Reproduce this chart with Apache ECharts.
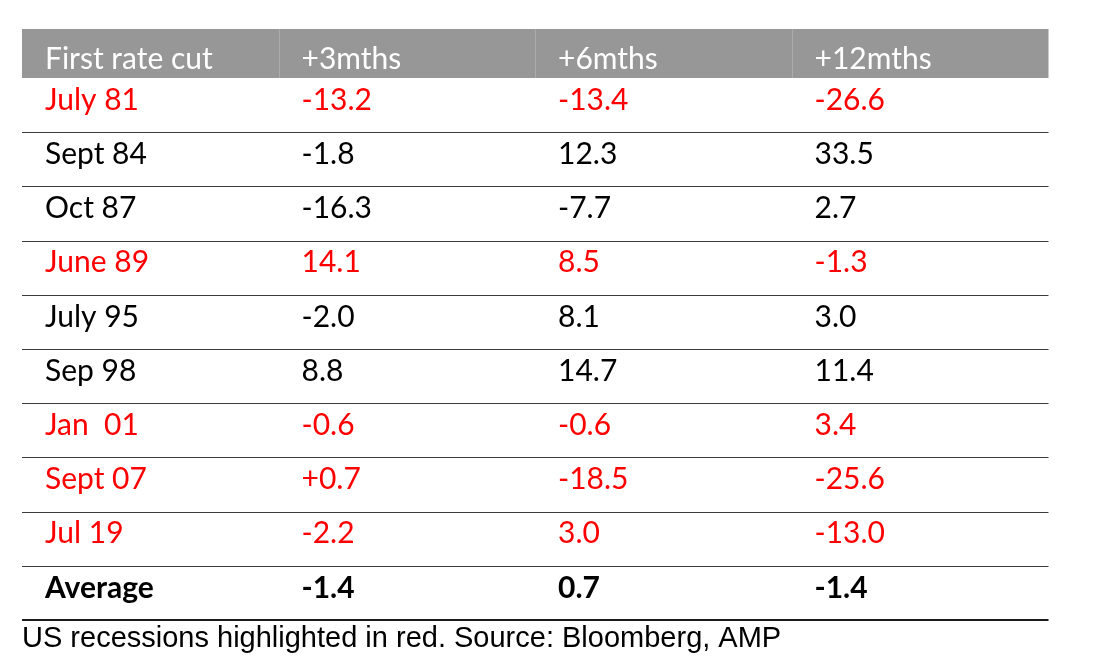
<!DOCTYPE html>
<html>
<head>
<meta charset="utf-8">
<script src="https://cdn.jsdelivr.net/npm/echarts@6/dist/echarts.min.js"></script>
<style>
    html, body { margin: 0; padding: 0; background: #fff; }
    #mychart { width: 1095px; height: 672px; }
</style>
</head>
<body>
<div id="mychart"></div>
<script>
// table content
var columns = ['First rate cut', '+3mths', '+6mths', '+12mths'];
var cutDates = ['July 81', 'Sept 84', 'Oct 87', 'June 89', 'July 95', 'Sep 98', 'Jan  01', 'Sept 07', 'Jul 19'];
var plus3m = ['-13.2', '-1.8', '-16.3', '14.1', '-2.0', '8.8', '-0.6', '+0.7', '-2.2'];
var plus6m = ['-13.4', '12.3', '-7.7', '8.5', '8.1', '14.7', '-0.6', '-18.5', '3.0'];
var plus12m = ['-26.6', '33.5', '2.7', '-1.3', '3.0', '11.4', '3.4', '-25.6', '-13.0'];
var recession = [true, false, false, true, false, false, true, true, true];
var averageRow = ['Average', '-1.4', '0.7', '-1.4'];
var note = 'US recessions highlighted in red. Source: Bloomberg, AMP';

var rowNames = cutDates.concat([averageRow[0]]);

// cells: [col, row, text, red, bold]
var cells = [];
cutDates.forEach(function (d, i) {
    var red = recession[i] ? 1 : 0;
    cells.push([0, i, d, red, 0]);
    cells.push([1, i, plus3m[i], red, 0]);
    cells.push([2, i, plus6m[i], red, 0]);
    cells.push([3, i, plus12m[i], red, 0]);
});
averageRow.forEach(function (t, c) {
    cells.push([c, cutDates.length, t, 0, 1]);
});

var headCells = columns.map(function (c, i) {
    return [i, 0, c];
});

var FONT = 'Lato, "Noto Sans", sans-serif';

function renderHead(params, api) {
    var p = api.coord([api.value(0), 0]);
    var size = api.size([1, 1]);
    var x0 = p[0] - size[0] / 2;
    var y0 = p[1] - size[1] / 2;
    var children = [{
        type: 'rect',
        shape: {x: x0, y: y0, width: size[0] + 0.5, height: size[1]},
        style: {fill: '#979797'}
    }, {
        type: 'text',
        style: {
            x: x0 + 23, y: p[1] + 6,
            text: headCells[params.dataIndex][2],
            fill: '#ffffff',
            font: '30px ' + FONT,
            verticalAlign: 'middle'
        }
    }];
    if (api.value(0) > 0) {
        var sx = Math.round(x0) + 0.5;
        children.push({
            type: 'line',
            shape: {x1: sx, y1: y0, x2: sx, y2: y0 + size[1]},
            style: {stroke: '#ababab', lineWidth: 1}
        });
    }
    return {type: 'group', children: children};
}

function renderCell(params, api) {
    var cell = cells[params.dataIndex];
    var p = api.coord([cell[0], cell[1]]);
    var size = api.size([1, 1]);
    var x0 = p[0] - size[0] / 2;
    var bold = cell[4] === 1;
    var yb = Math.round(p[1] + size[1] / 2);
    return {
        type: 'group',
        children: [{
            type: 'text',
            style: {
                x: x0 + 23, y: p[1] - 5,
                text: cell[2],
                fill: cell[3] ? '#ff0000' : '#000000',
                font: (bold ? 'bold ' : '') + '30px ' + FONT,
                verticalAlign: 'middle'
            }
        }, {
            type: 'line',
            shape: {x1: x0, y1: bold ? yb : yb + 0.5, x2: x0 + size[0] + 0.5, y2: bold ? yb : yb + 0.5},
            style: {stroke: bold ? '#1a1a1a' : '#3c3c3c', lineWidth: bold ? 2 : 1}
        }]
    };
}

var option = {
    animation: false,
    backgroundColor: '#ffffff',
    title: {
        text: note,
        left: 22,
        top: 624,
        padding: 0,
        textStyle: {
            fontFamily: '"Liberation Sans", Arial, sans-serif',
            fontSize: 29,
            fontWeight: 'normal',
            color: '#000000'
        }
    },
    grid: [
        {left: 22, right: 47, top: 29, height: 49},
        {left: 22, right: 47, top: 78, bottom: 52}
    ],
    xAxis: [
        {type: 'category', gridIndex: 0, data: columns, show: false},
        {type: 'category', gridIndex: 1, data: columns, show: false}
    ],
    yAxis: [
        {type: 'category', gridIndex: 0, data: ['header'], show: false},
        {type: 'category', gridIndex: 1, data: rowNames, inverse: true, show: false}
    ],
    series: [
        {
            type: 'custom',
            xAxisIndex: 0,
            yAxisIndex: 0,
            renderItem: renderHead,
            data: headCells.map(function (h) { return [h[0], h[1]]; })
        },
        {
            type: 'custom',
            xAxisIndex: 1,
            yAxisIndex: 1,
            renderItem: renderCell,
            data: cells.map(function (c) { return [c[0], c[1]]; })
        }
    ]
};

var mychart = echarts.init(document.getElementById('mychart'));
mychart.setOption(option);
</script>
</body>
</html>
